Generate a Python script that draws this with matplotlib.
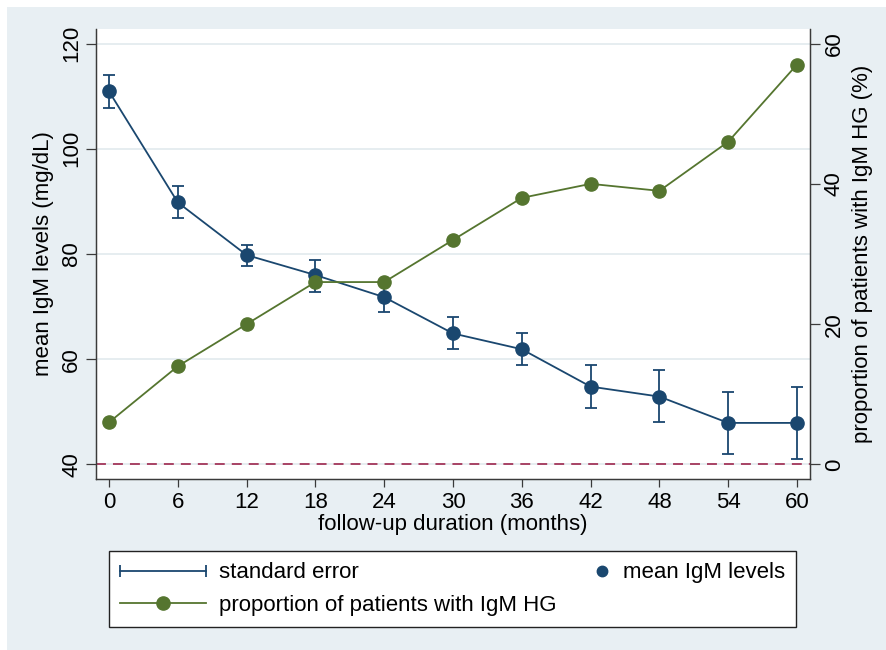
import matplotlib
matplotlib.use("Agg")
import matplotlib.pyplot as plt
from matplotlib.lines import Line2D
from matplotlib.legend_handler import HandlerLine2D
from matplotlib.patches import Rectangle

plt.rcParams['font.family'] = ['Liberation Sans', 'DejaVu Sans']
plt.rcParams['font.size'] = 16

# donnees
months = [0, 6, 12, 18, 24, 30, 36, 42, 48, 54, 60]
mean_igm = [110.9, 89.8, 79.8, 76.0, 71.8, 64.9, 61.9, 54.8, 52.9, 47.9, 47.9]
se_low = [107.8, 86.9, 77.8, 72.8, 68.9, 61.9, 59.0, 50.8, 48.1, 41.9, 41.0]
se_high = [114.0, 93.0, 81.8, 78.9, 74.7, 68.0, 65.0, 59.0, 57.9, 53.8, 54.8]
prop_hg = [6, 14, 20, 26, 26, 32, 38, 40, 39, 46, 57]

left_ticks = [40, 60, 80, 100, 120]
right_ticks = [0, 20, 40, 60]

navy = '#1a476f'
green = '#55752f'
maroon = '#a3365a'
bg = '#e8eff3'
gridc = '#e2eaee'
spinec = '#3a3a3a'


class RightMarker(HandlerLine2D):
    # marqueur colle a droite de la zone de la cle (style Stata)
    def get_xdata(self, legend, xdescent, ydescent, width, height, fontsize):
        x_r = width - xdescent - 0.35 * fontsize
        return [x_r - 0.2 * fontsize, x_r + 0.2 * fontsize], [x_r]


fig = plt.figure(figsize=(8.86, 6.5), dpi=100)
fig.patch.set_facecolor('white')
fig.patches.append(Rectangle((7 / 886, 0), 1 - 7 / 886, 1 - 7 / 650,
                             transform=fig.transFigure, facecolor=bg,
                             edgecolor='none', zorder=-10))

ax = fig.add_axes([96 / 886, 1 - 479 / 650, (810 - 96) / 886, (479 - 29) / 650])
ax.set_facecolor('white')

lower = [m - l for m, l in zip(mean_igm, se_low)]
upper = [h - m for m, h in zip(mean_igm, se_high)]
ax.errorbar(months, mean_igm, yerr=[lower, upper], fmt='none', ecolor=navy,
            elinewidth=1.3, capsize=4.5, capthick=1.3, zorder=3)
ax.plot(months, mean_igm, '-o', color=navy, ms=9.5, lw=1.3, zorder=4)
ax.axhline(40, color=maroon, ls=(0, (5.5, 3.9)), lw=1.3, zorder=2)

ax.set_xlim(-1.134, 61.134)
ax.set_ylim(37.24, 122.76)
ax.set_xticks(months)
ax.set_yticks(left_ticks)
ax.yaxis.grid(True, color=gridc, lw=1.2)
ax.set_axisbelow(True)
ax.tick_params(axis='y', rotation=90, length=7, width=0.9, color=spinec, pad=3)
ax.tick_params(axis='x', length=6, width=0.9, color=spinec, pad=3)
for lab in ax.get_yticklabels():
    lab.set_va('center')
ax.set_xlabel('follow-up duration (months)', labelpad=1)
ax.set_ylabel('mean IgM levels (mg/dL)', labelpad=5)

ax2 = ax.twinx()
ax2.plot(months, prop_hg, '-o', color=green, ms=9.5, lw=1.3, zorder=4)
ax2.set_ylim((37.24 - 40) * 0.75, (122.76 - 40) * 0.75)
ax2.set_yticks(right_ticks)
ax2.tick_params(axis='y', rotation=90, length=7, width=0.9, color=spinec, pad=3)
for lab in ax2.get_yticklabels():
    lab.set_va('center')
ax2.set_ylabel('proportion of patients with IgM HG (%)', labelpad=5)

for a in (ax, ax2):
    a.spines['top'].set_visible(False)
    for s in ('left', 'right', 'bottom'):
        a.spines[s].set_color(spinec)
        a.spines[s].set_linewidth(0.9)

# legende
se_handle = Line2D([], [], color=navy, lw=1.3, marker='|', ms=9, mew=1.3)
prop_handle = Line2D([], [], color=green, lw=1.3, marker='o', ms=9.5)
mean_handle = Line2D([], [], color=navy, ls='none', marker='o', ms=7.5)
blank = Line2D([], [], ls='none')

leg = fig.legend([se_handle, prop_handle, mean_handle, blank],
                 ['standard error', 'proportion of patients with IgM HG', 'mean IgM levels', ''],
                 ncol=2, mode='expand', loc='center', borderaxespad=0,
                 bbox_to_anchor=(109 / 886, 1 - 626 / 650, (796 - 109) / 886, (626 - 552) / 650),
                 handlelength=3.85, handletextpad=0.6, borderpad=0.5, labelspacing=0.5,
                 fancybox=False, framealpha=1, edgecolor='#222222',
                 handler_map={se_handle: HandlerLine2D(numpoints=2, marker_pad=0),
                              mean_handle: RightMarker(numpoints=1)})
leg.get_frame().set_linewidth(1.0)

fig.savefig('out.png', dpi=100)
